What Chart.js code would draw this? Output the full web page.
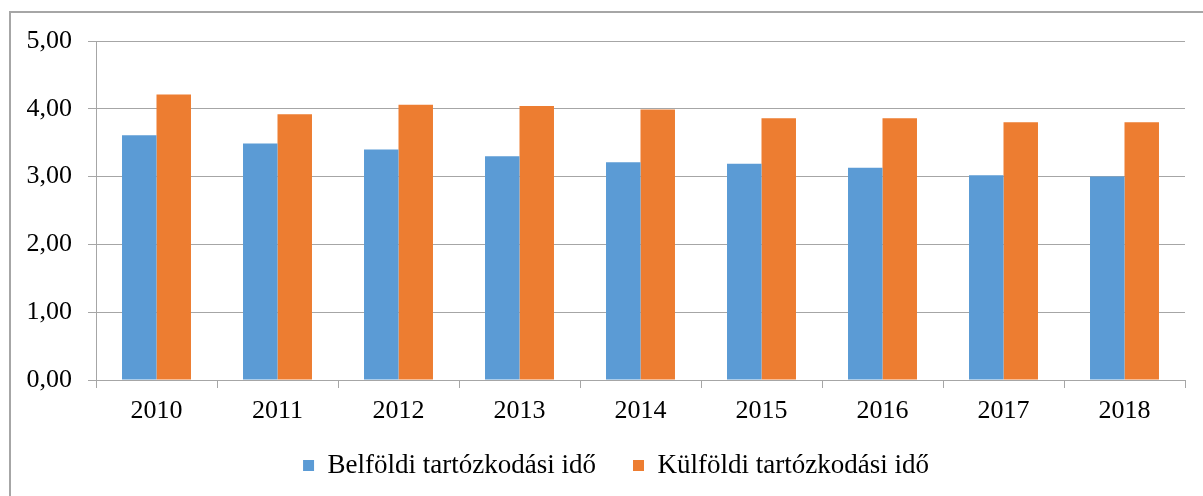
<!DOCTYPE html>
<html>
<head>
<meta charset="utf-8">
<script src="https://cdn.jsdelivr.net/npm/chart.js@4/dist/chart.umd.min.js"></script>
<style>
  body { margin: 0; background: #fff; overflow: hidden; }
  #frame { position: absolute; left: 9px; top: 11px; width: 1300px; height: 600px;
           border-left: 2px solid #a6a6a6; border-top: 2px solid #a6a6a6; }
  #wrap { position: absolute; left: 0; top: 0; width: 1203px; height: 496px; }
</style>
</head>
<body>
<div id="frame"></div>
<div id="wrap"><canvas id="myChart" width="1203" height="496"></canvas></div>
<script>
const years = ['2010','2011','2012','2013','2014','2015','2016','2017','2018'];
const belfoldi = [3.61, 3.49, 3.40, 3.30, 3.21, 3.19, 3.13, 3.02, 3.00];
const kulfoldi = [4.21, 3.92, 4.06, 4.04, 3.99, 3.86, 3.86, 3.80, 3.80];
const seriesNames = ['Belföldi tartózkodási idő', 'Külföldi tartózkodási idő'];
const Y_MIN = 0;
const Y_MAX = 5;

const family = "'Liberation Serif', 'Times New Roman', serif";
const tickFont = { family: family, size: 26 };
const legendFont = { family: family, size: 27 };
const gridColor = '#a6a6a6';

const ctxt = document.getElementById('myChart').getContext('2d');

const PAD_LEFT = 25;

// nudge the legend box a bit (the excel legend sits right of centre and tighter under the axis)
const legendNudge = {
  id: 'legendNudge',
  afterLayout(chart) {
    const l = chart.legend;
    l.left += 11; l.right += 11;
    l.top -= 7; l.bottom -= 7;
  }
};

const myChart = new Chart(ctxt, {
  type: 'bar',
  data: {
    labels: years,
    datasets: [
      { label: seriesNames[0], data: belfoldi, backgroundColor: '#5b9bd5', borderWidth: 0 },
      { label: seriesNames[1], data: kulfoldi, backgroundColor: '#ed7d31', borderWidth: 0 }
    ]
  },
  plugins: [legendNudge],
  options: {
    responsive: false,
    animation: false,
    layout: { padding: { left: PAD_LEFT, top: 41, right: 18, bottom: 0 } },
    categoryPercentage: 0.57,
    barPercentage: 1,
    plugins: {
      tooltip: { enabled: false },
      legend: {
        position: 'bottom',
        labels: {
          font: legendFont,
          color: '#000',
          boxWidth: 11,
          boxHeight: 11,
          padding: 37
        }
      }
    },
    scales: {
      x: {
        grid: { drawOnChartArea: false, drawTicks: true, tickLength: 8, color: gridColor, lineWidth: 1 },
        border: { color: gridColor, width: 1 },
        ticks: { font: tickFont, color: '#000', padding: 8 },
        afterFit: s => { s.height = 42; }
      },
      y: {
        min: Y_MIN,
        max: Y_MAX,
        grid: { color: gridColor, lineWidth: 1, tickLength: 8 },
        border: { color: gridColor, width: 1 },
        ticks: {
          stepSize: 1,
          font: tickFont,
          color: '#000',
          padding: 16,
          callback: v => v.toFixed(2).replace('.', ',')
        },
        afterFit: s => { s.width = 96 - PAD_LEFT; }
      }
    }
  }
});
</script>
</body>
</html>
